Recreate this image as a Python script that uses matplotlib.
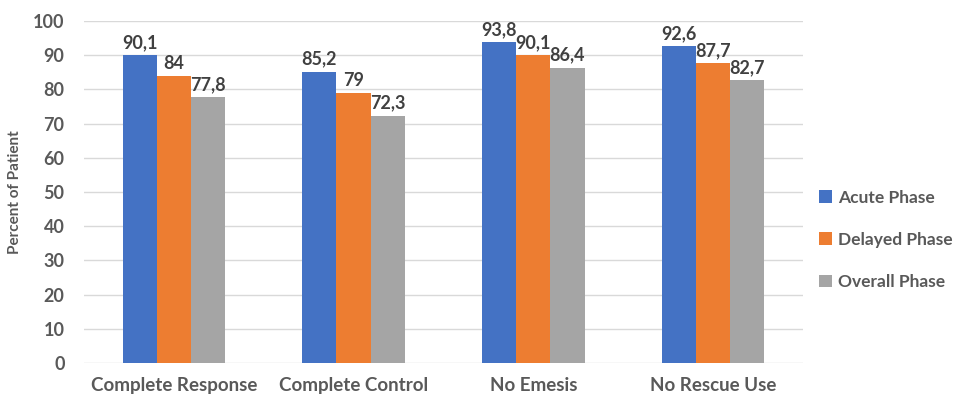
import numpy as np
import matplotlib
matplotlib.use("Agg")
import matplotlib.pyplot as plt
from matplotlib.font_manager import FontProperties

# Antiemetic response rates by phase
categories = ["Complete Response", "Complete Control", "No Emesis", "No Rescue Use"]
acute = [90.1, 85.2, 93.8, 92.6]
delayed = [84, 79, 90.1, 87.7]
overall = [77.8, 72.3, 86.4, 82.7]
series_names = ["Acute Phase", "Delayed Phase", "Overall Phase"]
colors = ["#4472C4", "#ED7D31", "#A5A5A5"]

plt.rcParams['font.family'] = ['Lato', 'DejaVu Sans']
txt_col = "#595959"

fig = plt.figure(figsize=(9.65, 4.0), dpi=100)
ax = fig.add_axes([0.087, 0.0925, 0.745, 0.855])

x = np.arange(len(categories))
w = 0.19
for i, (vals, name, col) in enumerate(zip([acute, delayed, overall], series_names, colors)):
    pos = x + (i - 1) * w
    ax.bar(pos, vals, width=w, color=col, label=name, zorder=2)
    for p, v in zip(pos, vals):
        lab = ("%g" % v).replace(".", ",")
        ax.text(p, v + 1.2, lab, ha="center", va="bottom", fontsize=13,
                fontweight="bold", color="#404040")

ax.set_xlim(-0.5, len(categories) - 0.5)
ax.set_ylim(0, 100)
ax.set_yticks(np.arange(0, 101, 10))
ax.yaxis.grid(True, color="#D9D9D9", linewidth=1, zorder=0)
for s in ax.spines.values():
    s.set_visible(False)
ax.tick_params(length=0)
ax.set_xticks(x)
ax.set_xticklabels(categories, fontsize=13.5, fontweight="bold", color=txt_col)
ax.tick_params(axis="x", pad=10)
ax.tick_params(axis="y", pad=14)
for t in ax.get_yticklabels():
    t.set_fontsize(13)
    t.set_fontweight("bold")
    t.set_color(txt_col)
ax.set_ylabel("Percent of Patient", fontsize=11, fontweight="bold", color=txt_col, labelpad=8)

leg_font = FontProperties(family="Lato", weight="bold", size=12.5)
leg = ax.legend(loc="center left", bbox_to_anchor=(1.0, 0.36), frameon=False,
                handlelength=0.75, handleheight=0.75, handletextpad=0.4,
                labelspacing=1.5, prop=leg_font)
for t in leg.get_texts():
    t.set_color(txt_col)

fig.savefig("out.png", dpi=100)
